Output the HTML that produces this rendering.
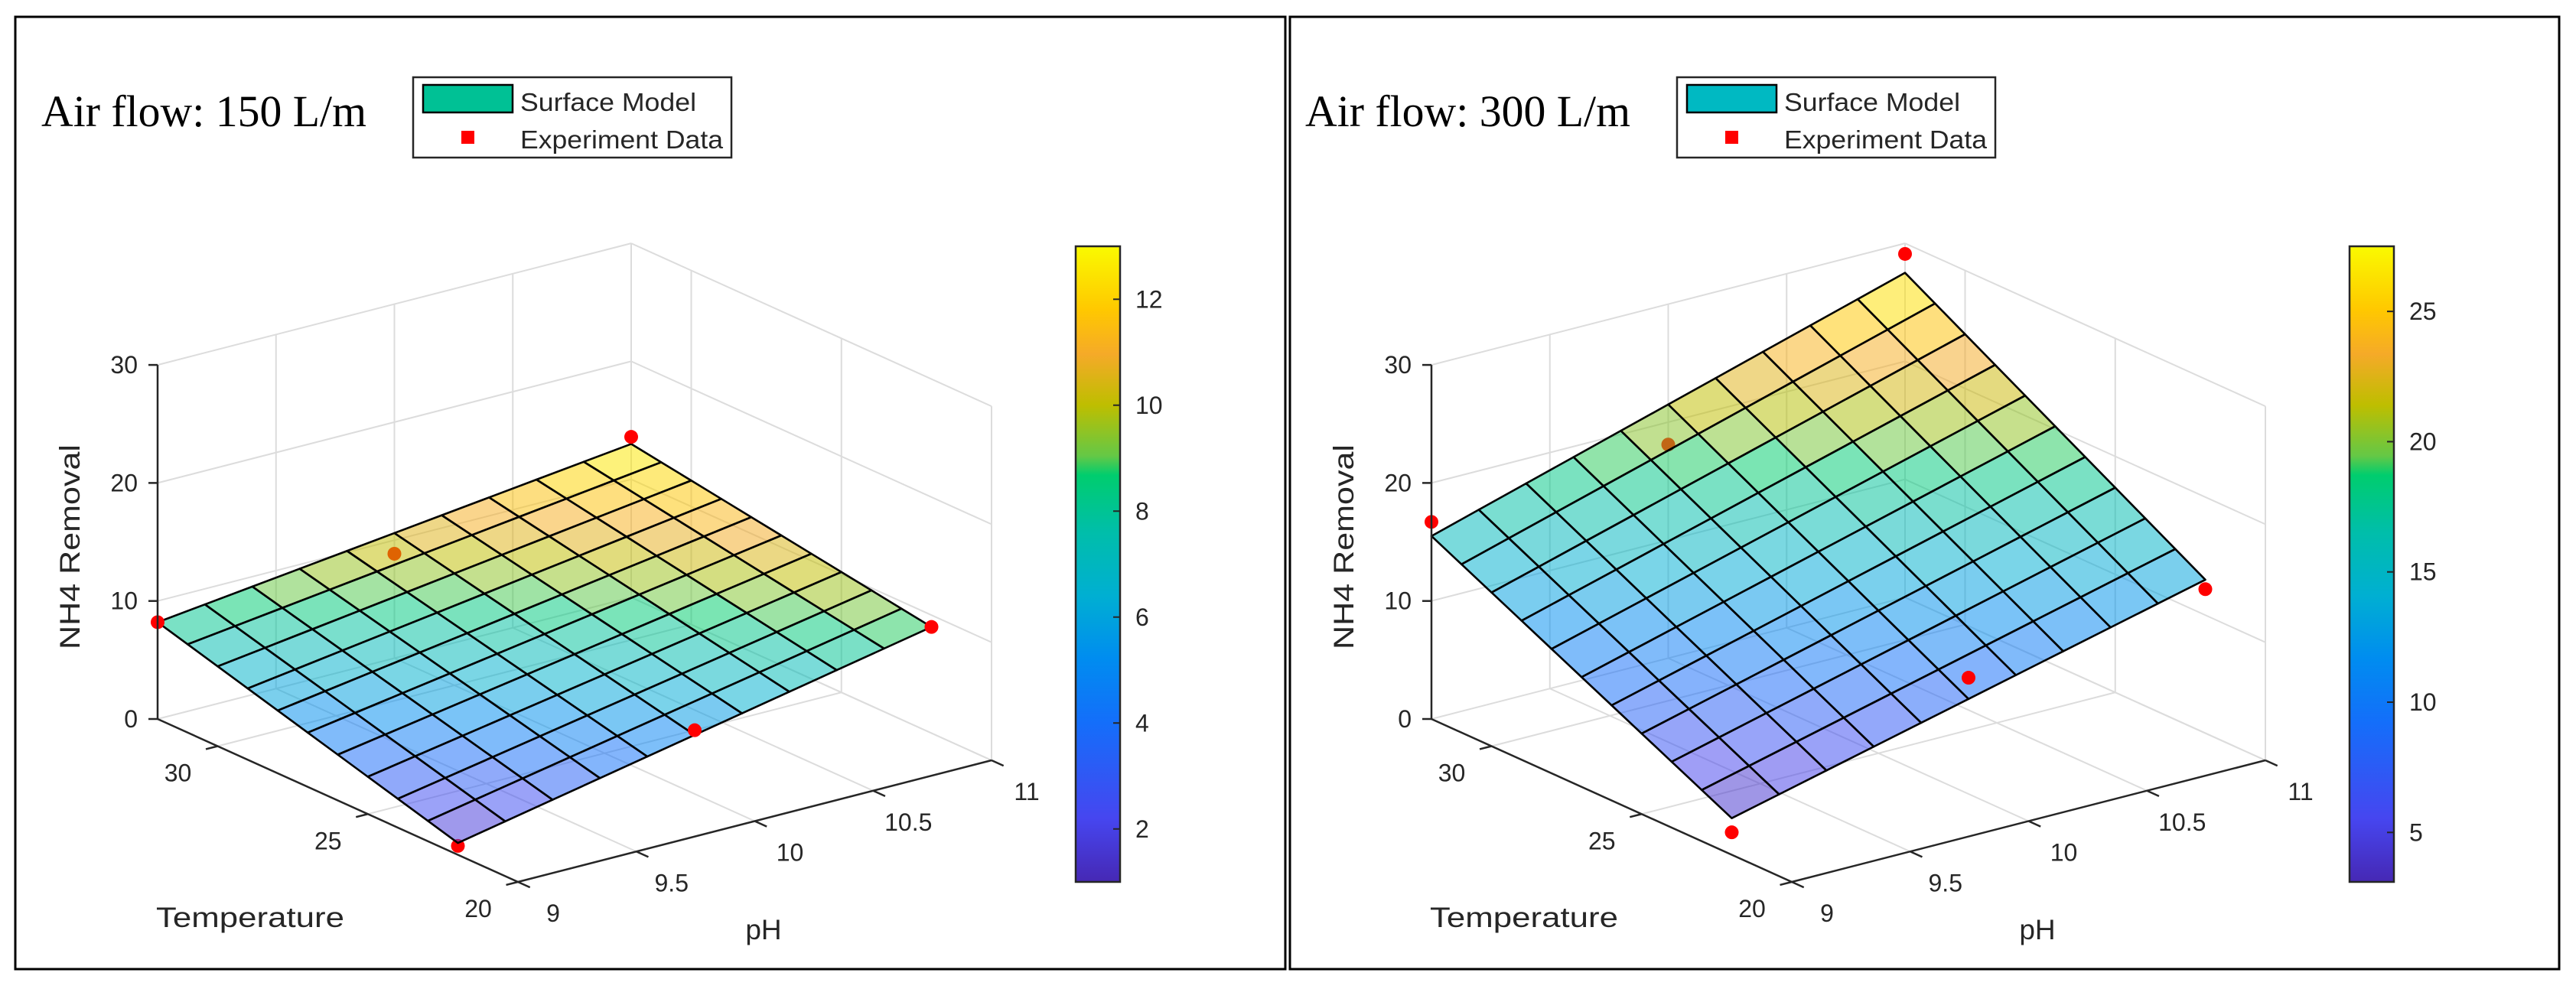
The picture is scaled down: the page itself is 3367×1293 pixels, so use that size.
<!DOCTYPE html>
<html><head><meta charset="utf-8"><style>
html,body{margin:0;padding:0;background:#fff;}
svg{display:block;}
text{font-family:"Liberation Sans",sans-serif;fill:#262626;}
</style></head><body>
<svg id="chart" width="3367" height="1293" viewBox="0 0 3367 1293" xmlns="http://www.w3.org/2000/svg">
<rect x="0" y="0" width="3367" height="1293" fill="#fff"/>
<rect x="20" y="22" width="1660" height="1245" fill="none" stroke="#000" stroke-width="3"/>
<rect x="1686" y="22" width="1659" height="1245" fill="none" stroke="#000" stroke-width="3"/>
<g id="p0"></g>
<g id="p1"></g>
</svg>
<script>
// ---- data ----
const panelTitles = ["Air flow: 150 L/m", "Air flow: 300 L/m"];
const surfTempRange = [22, 32];
const surfPhRange = [9, 11];
// surface corner values: [pH9, pH11] at T=22 and at T=32
const surf150T22 = [1, 9];
const surf150T32 = [8.2, 13];
const surf300T22 = [3.1, 13];
const surf300T32 = [15.5, 27.5];
const expTemp = [32, 32, 22, 22, 22, 32];
const expPh = [9, 11, 9, 11, 10, 10];
const exp150 = [8.2, 13.6, 0.75, 9.0, 5.4, 8.85];
const exp300 = [16.7, 29.1, 1.9, 12.2, 9.85, 18.1];
const zTicks = [0, 10, 20, 30];
const tTicks = [20, 25, 30];
const phTicks = [9, 9.5, 10, 10.5, 11];
const phTickLabels = ["9", "9.5", "10", "10.5", "11"];
const cbRange150 = [1, 13];
const cbRange300 = [3.1, 27.5];
const cbTicks150 = [2, 4, 6, 8, 10, 12];
const cbTicks300 = [5, 10, 15, 20, 25];
const legendColors = ["#00c195", "#00b9c2"];

const NS = "http://www.w3.org/2000/svg";
const cmStops = [0,0.1,0.25,0.35,0.45,0.55,0.64,0.67,0.75,0.83,0.9,1];
const cmCols = [[70,40,180],[70,70,240],[20,110,250],[0,140,240],[0,175,210],[0,190,170],[0,205,110],[100,200,70],[190,190,0],[245,170,40],[255,200,0],[250,250,0]];
function cmap(t){t=Math.max(0,Math.min(1,t));let i=0;while(i<cmStops.length-2&&t>cmStops[i+1])i++;
  const f=(t-cmStops[i])/(cmStops[i+1]-cmStops[i]);
  const c=cmCols[i].map((v,k)=>Math.round(v+(cmCols[i+1][k]-v)*f));return `rgb(${c[0]},${c[1]},${c[2]})`;}
function mk(parent,tag,attrs){const e=document.createElementNS(NS,tag);for(const k in attrs)e.setAttribute(k,attrs[k]);parent.appendChild(e);return e;}

function drawPanel(gid,dx,title,z22,z32,expZ,cb,cbTicks,legColor){
  const g=document.getElementById(gid);
  const Bx=677+dx,By=1153, tv=[-39.25,-17.75], pv=[309.5,-79.5], zs=15.43;
  const P=(T,pH,z)=>[Bx+(T-20)*tv[0]+(pH-9)*pv[0], By+(T-20)*tv[1]+(pH-9)*pv[1]-z*zs];
  const line=(a,b,st,w,name)=>{const l=mk(g,'line',{x1:a[0],y1:a[1],x2:b[0],y2:b[1],stroke:st,'stroke-width':w});
    
    return l;};
  const grid='#dcdcdc';
  phTicks.forEach(p=>line(P(20,p,0),P(32,p,0),grid,2,'floor-gridline'));
  tTicks.forEach(t=>line(P(t,9,0),P(t,11,0),grid,2,'floor-gridline'));
  phTicks.forEach(p=>line(P(32,p,0),P(32,p,30),grid,2,'wall-gridline'));
  zTicks.forEach(z=>line(P(32,9,z),P(32,11,z),grid,2,'wall-gridline'));
  tTicks.concat([32]).forEach(t=>line(P(t,11,0),P(t,11,30),grid,2,'wall-gridline'));
  zTicks.forEach(z=>line(P(20,11,z),P(32,11,z),grid,2,'wall-gridline'));

  const surfZ=(T,pH)=>{const u=(T-surfTempRange[0])/(surfTempRange[1]-surfTempRange[0]);const v=(pH-surfPhRange[0])/(surfPhRange[1]-surfPhRange[0]);
    const a=z22[0]+(z22[1]-z22[0])*v, b=z32[0]+(z32[1]-z32[0])*v; return a+(b-a)*u;};
  const pt=(i)=>{const c=P(expTemp[i],expPh[i],expZ[i]);const e=mk(g,'ellipse',{cx:c[0],cy:c[1],rx:9,ry:9,fill:'#ff0000'});
    
    };
  for(let i=0;i<expZ.length;i++) if(expZ[i]<surfZ(expTemp[i],expPh[i])-0.1) pt(i);
  const N=10;
  for(let i=0;i<N;i++)for(let j=0;j<N;j++){
    const T0=surfTempRange[1]-(surfTempRange[1]-surfTempRange[0])*i/N, T1=surfTempRange[1]-(surfTempRange[1]-surfTempRange[0])*(i+1)/N;
    const p0=surfPhRange[0]+(surfPhRange[1]-surfPhRange[0])*j/N, p1=surfPhRange[0]+(surfPhRange[1]-surfPhRange[0])*(j+1)/N;
    const cs=[[T0,p0],[T0,p1],[T1,p1],[T1,p0]];
    const zz=cs.map(c=>surfZ(c[0],c[1]));const avg=zz.reduce((a,b)=>a+b)/4;
    const pts=cs.map((c,k)=>P(c[0],c[1],zz[k]).join(',')).join(' ');
    const q=mk(g,'polygon',{points:pts,fill:cmap((avg-cb[0])/(cb[1]-cb[0])),'fill-opacity':0.52,stroke:'#000','stroke-width':2.6,'stroke-linejoin':'round'});
    
    
  }
  for(let i=0;i<expZ.length;i++) if(!(expZ[i]<surfZ(expTemp[i],expPh[i])-0.1)) pt(i);

  const ax='#262626';
  line(P(32,9,0),P(32,9,30),ax,2.5,'z-axis-line');
  line(P(32,9,0),P(20,9,0),ax,2.5,'temperature-axis-line');
  line(P(20,9,0),P(20,11,0),ax,2.5,'ph-axis-line');
  const txt=(x,y,s,anchor,size,name,extra)=>{const t=mk(g,'text',Object.assign({x:x,y:y,'text-anchor':anchor,'font-size':size},extra||{}));t.textContent=s;
    
    return t;};
  zTicks.forEach(z=>{const a=P(32,9,z);line(a,[a[0]-12,a[1]],ax,2.5,'z-tick');txt(a[0]-26,a[1]+11,String(z),'end',32,'z-tick-label');});
  tTicks.forEach(t=>{const a=P(t,9,0);line(a,[a[0]-pv[0]*0.05,a[1]-pv[1]*0.05],ax,2.5,'temperature-tick');txt(a[0]-52,a[1]+46,String(t),'middle',32,'temperature-tick-label');});
  phTicks.forEach((p,k)=>{const a=P(20,p,0);line(a,[a[0]-tv[0]*0.4,a[1]-tv[1]*0.4],ax,2.5,'ph-tick');txt(a[0]+46,a[1]+52,phTickLabels[k],'middle',32,'ph-tick-label');});
  txt(0,0,'NH4 Removal','middle',37,'z-axis-title',{transform:`translate(${104+dx},${715}) rotate(-90)`,textLength:268,lengthAdjust:'spacingAndGlyphs'});
  txt(204+dx,1212,'Temperature','start',37,'temperature-axis-title',{textLength:246,lengthAdjust:'spacingAndGlyphs'});
  txt(998+dx,1228,'pH','middle',37,'ph-axis-title');

  const tt=txt(54+dx-(dx?13:0),165,title,'start',58,'panel-title',{textLength:425,lengthAdjust:'spacingAndGlyphs'});
  tt.setAttribute('style','font-family:"Liberation Serif",serif;fill:#000');
  const lx=540+dx-(dx?13:0);
  const lg=mk(g,'rect',{x:lx,y:101,width:416,height:105,fill:'#fff',stroke:'#262626','stroke-width':2.5});
  
  
  const sw=mk(g,'rect',{x:lx+13,y:111,width:117,height:36,fill:legColor,stroke:'#000','stroke-width':2.5});
  
  
  txt(lx+140,145,'Surface Model','start',33,'legend-entry-surface',{textLength:230,lengthAdjust:'spacingAndGlyphs'});
  const rs=mk(g,'rect',{x:lx+63,y:171,width:17,height:17,fill:'#ff0000'});
  
  
  txt(lx+140,194,'Experiment Data','start',33,'legend-entry-experiment',{textLength:265,lengthAdjust:'spacingAndGlyphs'});

  const cbx=1406+dx, cby0=322, cby1=1153, cbw=58;
  const defs=mk(g,'defs',{});const gr=mk(defs,'linearGradient',{id:'grad'+gid,x1:0,y1:1,x2:0,y2:0});
  cmStops.forEach((s,k)=>{const c=cmCols[k];mk(gr,'stop',{offset:s,'stop-color':`rgb(${c[0]},${c[1]},${c[2]})`});});
  const cr=mk(g,'rect',{x:cbx,y:cby0,width:cbw,height:cby1-cby0,fill:`url(#grad${gid})`,stroke:'#262626','stroke-width':2.5});
  
  
  cbTicks.forEach(v=>{const y=cby1-(v-cb[0])/(cb[1]-cb[0])*(cby1-cby0);
    line([cbx+cbw-9,y],[cbx+cbw,y],ax,2,'colorbar-tick');
    txt(cbx+cbw+20,y+11,String(v),'start',32,'colorbar-tick-label');});
}
drawPanel('p0',0,panelTitles[0],surf150T22,surf150T32,exp150,cbRange150,cbTicks150,legendColors[0]);
drawPanel('p1',1665,panelTitles[1],surf300T22,surf300T32,exp300,cbRange300,cbTicks300,legendColors[1]);
</script>
</body></html>
